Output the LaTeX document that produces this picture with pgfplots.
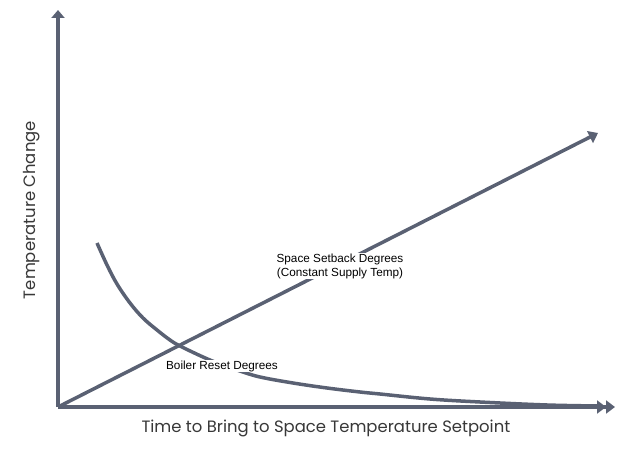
\documentclass[border=0pt]{standalone}
\usepackage{pgfplots}
\pgfplotsset{compat=1.18}
\usepackage{fontspec}
\setmainfont{Liberation Sans}
\newfontfamily\gothic{Poppins}
\usetikzlibrary{arrows.meta}
\definecolor{slate}{HTML}{5A6173}
\begin{document}
\begin{tikzpicture}
\begin{axis}[
  scale only axis,
  width=557bp, height=397bp,
  xmin=0, xmax=557, ymin=0, ymax=397,
  axis lines=left,
  xtick=\empty, ytick=\empty,
  clip=false,
  x axis line style={slate, line width=3.5bp, -{Triangle[width=13bp,length=9bp]Triangle[width=13bp,length=9bp]}},
  y axis line style={slate, line width=3.5bp, -{Triangle[width=13bp,length=8bp]}},
  xlabel={\gothic Time to Bring to Space Temperature Setpoint},
  ylabel={\gothic Temperature Change},
  xlabel style={at={(axis description cs:0.481,-0.053)}, anchor=center, font=\fontsize{16.5}{19}\selectfont, text=black!78},
  ylabel style={at={(axis description cs:-0.047,0.496)}, anchor=center, font=\fontsize{16.5}{19}\selectfont, text=black!78},
]
\addplot[slate, line width=3.5bp, smooth, tension=0.6] coordinates {
(39,164) (49,142) (59,123) (72,104) (85,89) (99,77) (112,67) (122,61) (145,50) (162,43) (182,36) (202,30) (235,24) (269,19) (302,15) (322,13) (372,8) (422,5) (489,2) (542,1)};
\addplot[slate, line width=3.5bp, -{Triangle[width=13bp,length=9bp]}] coordinates {(0,0) (540,274)};
\node[fill=white, inner sep=1bp, align=center, font=\fontsize{11.8}{14}\selectfont] at (axis cs:282,141) {Space Setback Degrees\\(Constant Supply Temp)};
\node[fill=white, inner sep=1bp, font=\fontsize{11.8}{13}\selectfont] at (axis cs:164,41) {Boiler Reset Degrees};
\coordinate (bl) at (axis cs:-58,-49);
\coordinate (tr) at (axis cs:566,407);
\end{axis}
\path (bl) rectangle (tr);
\end{tikzpicture}
\end{document}
